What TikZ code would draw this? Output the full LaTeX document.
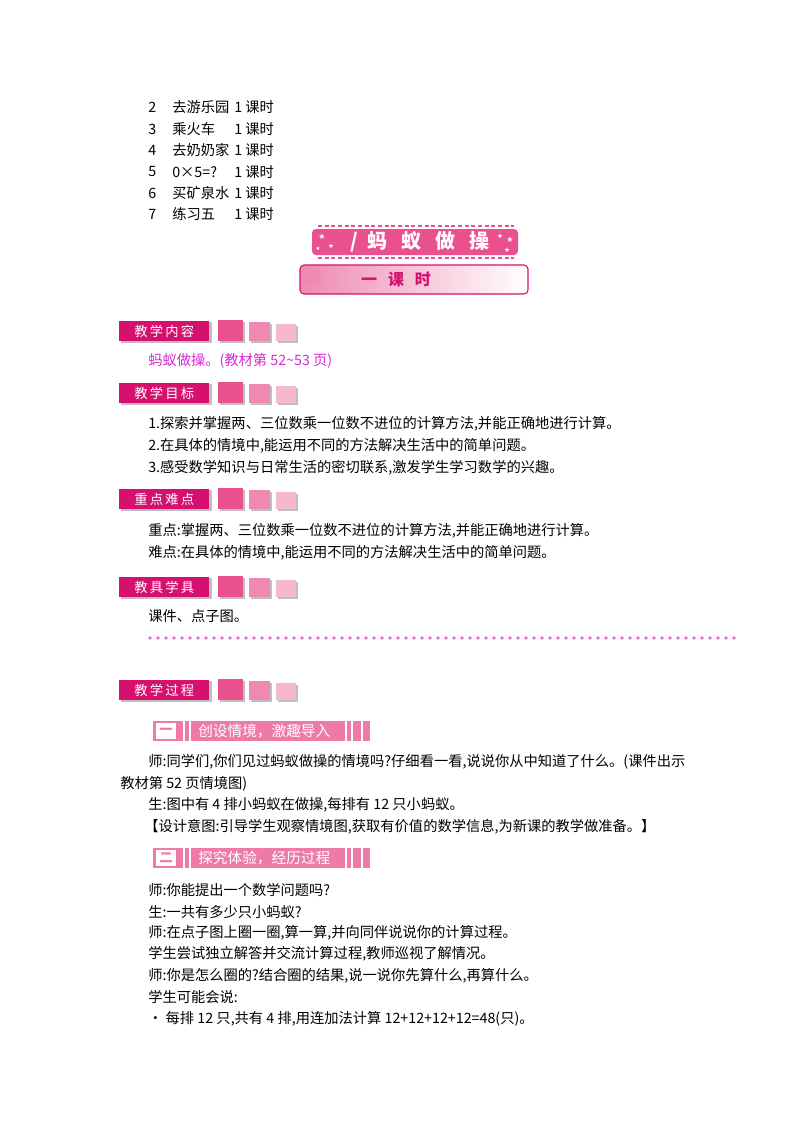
\documentclass[tikz,border=0pt]{standalone}
\usepackage{fontspec}
\setmainfont{Noto Sans CJK SC}
\newfontfamily\dejavu{DejaVu Sans}
\definecolor{mag}{HTML}{D6106E}
\definecolor{pk1}{HTML}{E8508E}
\definecolor{pk2}{HTML}{EE8AB0}
\definecolor{pk3}{HTML}{F6B8CE}
\definecolor{vio}{HTML}{D62AD6}
\definecolor{bar}{HTML}{EE7AA8}
\tikzset{x=0.75pt,y=-0.75pt,
 txt/.style={anchor=west,inner sep=0pt,font=\fontsize{10.7}{12}\selectfont},
 hdr/.style={fill=mag,text=white,minimum width=67.5pt,minimum height=15pt,inner sep=0pt,font=\fontsize{10}{12}\selectfont,anchor=west}}
\newcommand{\hdrbox}[3]{%
 \fill[gray!50] (121,#1-9) rectangle (212,#1+12);
 \node[hdr] (#2) at (119,#1) {#3};
 \fill[gray!50] (220,#1-9) rectangle (245,#1+12);
 \fill[pk1] (218,#1-11) rectangle (243,#1+10);
 \fill[gray!50] (251,#1-7) rectangle (272,#1+12);
 \fill[pk2] (249,#1-9) rectangle (270,#1+10);
 \fill[gray!50] (278,#1-5) rectangle (298,#1+12);
 \fill[pk3] (276,#1-7) rectangle (296,#1+10);}
\newcommand{\subbar}[4]{%
 \fill[bar] (153,#1-10) rectangle (370,#1+10);
 \draw[white,line width=1pt,fill=white] (157,#1-7) rectangle (175,#1+7);
 \node[text=bar,inner sep=0pt,font=\bfseries\fontsize{10}{12}\selectfont] at (166,#1) {#3};
 \foreach \xx in {184,190,346,352,362}{\draw[white,line width=1.2pt] (\xx,#1-10) -- (\xx,#1+10);}
 \node[anchor=west,inner sep=0pt,text=white,font=\fontsize{11}{12}\selectfont] (#2) at (198,#1) {#4};}
\begin{document}
\begin{tikzpicture}
\useasboundingbox (0,0) rectangle (800,1132);
\fill[white] (0,0) rectangle (800,1132);
\foreach \n/\t/\yy in {2/去游乐园/107,3/乘火车/129,4/去奶奶家/150,5/0×5=?/172,6/买矿泉水/193,7/练习五/214}{
 \node[txt] at (148,\yy) {\n};
 \node[txt] at (172,\yy) {\t};
 \node[txt] at (234,\yy) {1 课时};}
\draw[pk1,line width=1.2pt,dash pattern=on 3pt off 2pt] (318,226) -- (514,226) (318,258) -- (514,258);
\fill[pk1,rounded corners=3pt] (312,229) rectangle (518,255);
\node[text=white,font=\bfseries\fontsize{15}{17}\selectfont,inner sep=0pt] (title) at (420,242) {/\ \ 蚂\ \ \ 蚁\ \ \ 做\ \ \ 操};
\foreach \xx/\yy/\s in {322/237/6,331/246/5,318/249/4,500/236/5,510/240/6,507/250/5}{\node[text=white,inner sep=0pt,font=\dejavu\fontsize{\s}{\s}\selectfont] at (\xx,\yy) {★};}
\shade[left color=pk2,right color=white,rounded corners=3pt] (300,265) rectangle (528,294);
\draw[mag,line width=0.8pt,rounded corners=3pt] (300,265) rectangle (528,294);
\fill[pk2] (304,271) -- (318,268) -- (322,282) -- (308,285) -- cycle;
\node[text=mag,font=\bfseries\fontsize{12}{14}\selectfont,inner sep=0pt] (ks) at (396,279) {一\ \ \ 课\ \ \ 时};
\hdrbox{331}{h1}{教\,学\,内\,容}
\node[txt,text=vio] (c1) at (148,361) {蚂蚁做操。(教材第 52\string~53 页)};
\hdrbox{393}{h2}{教\,学\,目\,标}
\node[txt] at (148,424) {1.探索并掌握两、三位数乘一位数不进位的计算方法,并能正确地进行计算。};
\node[txt] at (148,446) {2.在具体的情境中,能运用不同的方法解决生活中的简单问题。};
\node[txt] at (148,468) {3.感受数学知识与日常生活的密切联系,激发学生学习数学的兴趣。};
\hdrbox{499}{h3}{重\,点\,难\,点}
\node[txt] at (148,531) {重点:掌握两、三位数乘一位数不进位的计算方法,并能正确地进行计算。};
\node[txt] at (148,553) {难点:在具体的情境中,能运用不同的方法解决生活中的简单问题。};
\hdrbox{587}{h4}{教\,具\,学\,具}
\node[txt] at (148,616) {课件、点子图。};
\foreach \xx in {150,158,...,738}{\fill[vio!70] (\xx,638) circle (1.8);}
\hdrbox{690}{h5}{教\,学\,过\,程}
\subbar{731}{s1}{一}{创设情境，激趣导入}
\node[txt,text width=612*0.75pt,align=justify] at (148,762) {师:同学们,你们见过蚂蚁做操的情境吗?仔细看一看,说说你从中知道了什么。(课件出示\hspace*{\fill}\hspace*{-\fill}};
\node[txt] at (120,784) {教材第 52 页情境图)};
\node[txt] at (148,805) {生:图中有 4 排小蚂蚁在做操,每排有 12 只小蚂蚁。};
\node[txt] at (144,827) {【设计意图:引导学生观察情境图,获取有价值的数学信息,为新课的教学做准备。】};
\subbar{858}{s2}{二}{探究体验，经历过程}
\node[txt] at (148,890) {师:你能提出一个数学问题吗?};
\node[txt] at (148,912) {生:一共有多少只小蚂蚁?};
\node[txt] at (148,933) {师:在点子图上圈一圈,算一算,并向同伴说说你的计算过程。};
\node[txt] at (148,954) {学生尝试独立解答并交流计算过程,教师巡视了解情况。};
\node[txt] at (148,976) {师:你是怎么圈的?结合圈的结果,说一说你先算什么,再算什么。};
\node[txt] at (148,997) {学生可能会说:};
\node[txt] at (148,1019) {• 每排 12 只,共有 4 排,用连加法计算 12+12+12+12=48(只)。};
\end{tikzpicture}
\end{document}
